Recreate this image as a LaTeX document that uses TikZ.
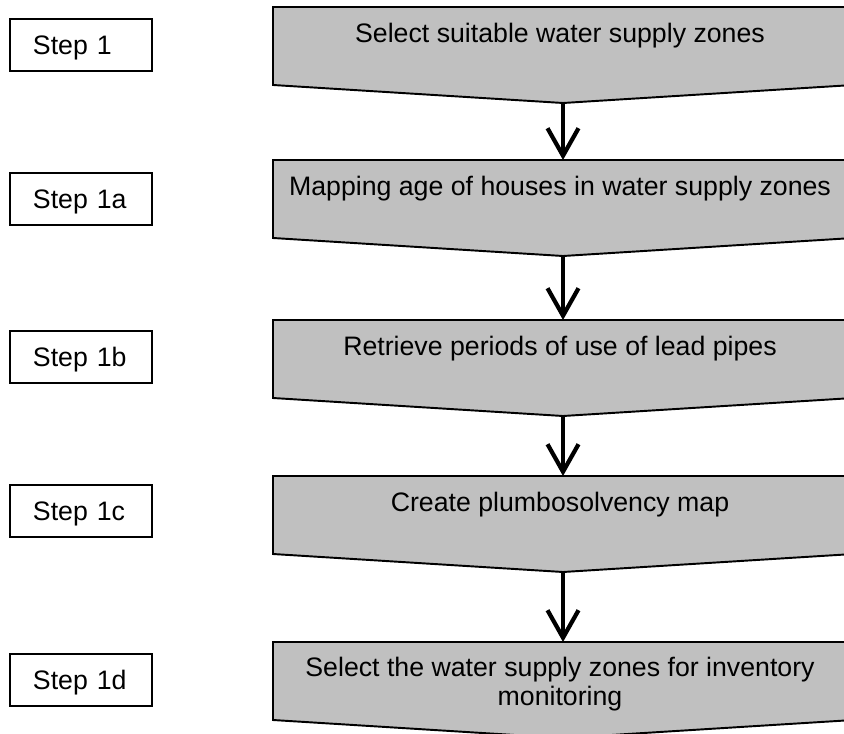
\documentclass[tikz,border=0pt]{standalone}
\usepackage{fontspec}
\setmainfont{Liberation Sans}
\usetikzlibrary{arrows.meta}
\definecolor{boxgray}{RGB}{192,192,192}

\begin{document}
\begin{tikzpicture}[x=0.02cm, y=-0.02cm,
    every node/.style={font=\fontsize{15.2}{16.2}\selectfont},
    stepbox/.style={draw, line width=1.1pt, anchor=north west, minimum height=1.04cm,
                    text width=1.92cm, inner xsep=0.46cm, align=left, text depth=0pt},
    flowbox/.style={draw, line width=1.1pt, fill=boxgray},
    flowarrow/.style={line width=2.4pt, -{Straight Barb[length=0.55cm, width=0.62cm]}}]
            \clip (0,0) rectangle (844,733);
            % step labels
            \node[stepbox] (s1) at (9,18) {Step 1};
            \node[stepbox] (s1a) at (9,172) {Step 1a};
            \node[stepbox] (s1b) at (9,330) {Step 1b};
            \node[stepbox] (s1c) at (9,484) {Step 1c};
            \node[stepbox] (s1d) at (9,653) {Step 1d};
            % grey boxes
            \draw[flowbox] (273,7) -- (853,7) -- (853,85) -- (563,103) -- (273,85) -- cycle;
            \draw[flowbox] (273,160) -- (853,160) -- (853,238) -- (563,256) -- (273,238) -- cycle;
            \draw[flowbox] (273,320) -- (853,320) -- (853,398) -- (563,416) -- (273,398) -- cycle;
            \draw[flowbox] (273,476) -- (853,476) -- (853,554) -- (563,572) -- (273,554) -- cycle;
            \draw[flowbox] (273,642) -- (853,642) -- (853,720) -- (563,738) -- (273,720) -- cycle;
            \node (z1) at (560,36) {Select suitable water supply zones};
            \node (z2) at (560,189) {Mapping age of houses in water supply zones};
            \node (z3) at (560,349) {Retrieve periods of use of lead pipes};
            \node (z4) at (560,505) {Create plumbosolvency map};
            \node[align=center] (z5) at (560,684) {Select the water supply zones for inventory\\monitoring};
            \coordinate (z1tip) at (563,103);
            \coordinate (z2top) at (563,160);
            \coordinate (z2tip) at (563,256);
            \coordinate (z3top) at (563,320);
            \coordinate (z3tip) at (563,416);
            \coordinate (z4top) at (563,476);
            \coordinate (z4tip) at (563,572);
            \coordinate (z5top) at (563,642);
            % arrows
            \draw[flowarrow] (z1tip) -- (z2top);
            \draw[flowarrow] (z2tip) -- (z3top);
            \draw[flowarrow] (z3tip) -- (z4top);
            \draw[flowarrow] (z4tip) -- (z5top);
        \end{tikzpicture}
\end{document}
